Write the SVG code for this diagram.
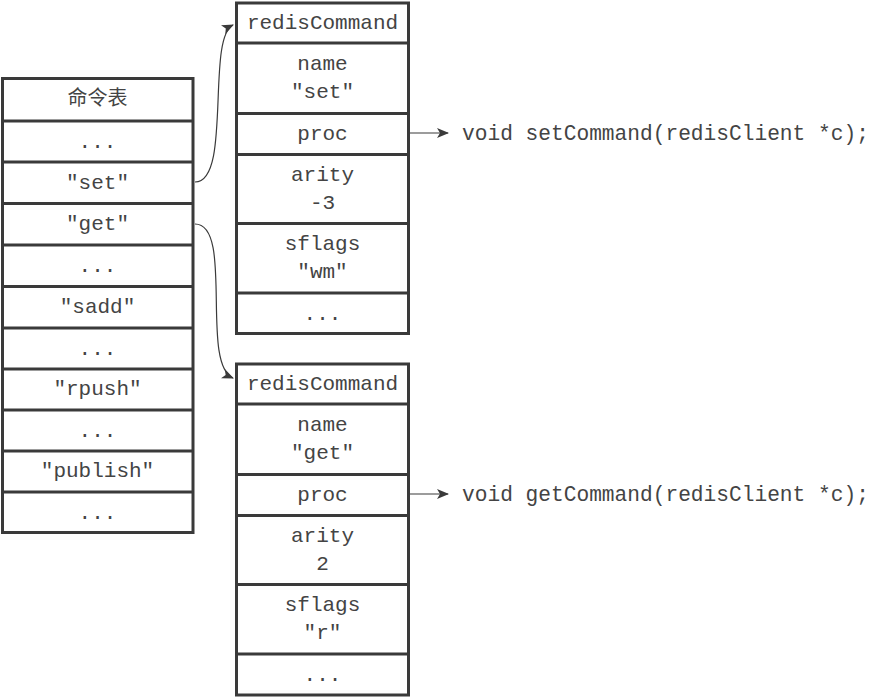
<svg xmlns="http://www.w3.org/2000/svg" width="869" height="698" viewBox="0 0 869 698">
  <style>
    .box { fill: #ffffff; stroke: #3a3a3a; stroke-width: 3; }
    .sep { stroke: #3a3a3a; stroke-width: 3; }
    .t { font-family: "Liberation Mono", "Courier New", monospace; font-size: 21px; fill: #444444; text-anchor: middle; }
    .fn { font-family: "Liberation Mono", "Courier New", monospace; font-size: 21.2px; fill: #444444; }
    .cjk { font-family: "Liberation Sans", "Noto Sans CJK SC", sans-serif; font-size: 20px; fill: #444444; text-anchor: middle; }
    .wire { fill: none; stroke: #3a3a3a; stroke-width: 1.2; }
  </style>
  <defs>
    <marker id="arrow" viewBox="0 0 12 10" refX="11" refY="5" markerWidth="12" markerHeight="10" markerUnits="userSpaceOnUse" orient="auto">
      <path d="M0,0 L12,5 L0,10 L3,5 Z" fill="#3a3a3a"/>
    </marker>
  </defs>
  <rect width="869" height="698" fill="#ffffff"/>

  <!-- command table -->
  <g id="command-table">
    <rect class="box" x="2.5" y="78.5" width="190.5" height="454"/>
    <line class="sep" x1="2.5" y1="121" x2="193" y2="121"/>
    <line class="sep" x1="2.5" y1="162" x2="193" y2="162"/>
    <line class="sep" x1="2.5" y1="203.5" x2="193" y2="203.5"/>
    <line class="sep" x1="2.5" y1="245" x2="193" y2="245"/>
    <line class="sep" x1="2.5" y1="286.5" x2="193" y2="286.5"/>
    <line class="sep" x1="2.5" y1="328" x2="193" y2="328"/>
    <line class="sep" x1="2.5" y1="369" x2="193" y2="369"/>
    <line class="sep" x1="2.5" y1="410" x2="193" y2="410"/>
    <line class="sep" x1="2.5" y1="451" x2="193" y2="451"/>
    <line class="sep" x1="2.5" y1="492" x2="193" y2="492"/>
    <text class="cjk" x="97.5" y="105">命令表</text>
    <text class="t" x="97.5" y="148">...</text>
    <text class="t" x="97.5" y="189">"set"</text>
    <text class="t" x="97.5" y="230">"get"</text>
    <text class="t" x="97.5" y="272">...</text>
    <text class="t" x="97.5" y="313">"sadd"</text>
    <text class="t" x="97.5" y="355">...</text>
    <text class="t" x="97.5" y="395">"rpush"</text>
    <text class="t" x="97.5" y="437">...</text>
    <text class="t" x="97.5" y="477">"publish"</text>
    <text class="t" x="97.5" y="519">...</text>
  </g>

  <!-- redisCommand for "set" -->
  <g id="set-command">
    <rect class="box" x="236.5" y="3" width="172" height="330.5"/>
    <line class="sep" x1="236.5" y1="43" x2="408.5" y2="43"/>
    <line class="sep" x1="236.5" y1="113.5" x2="408.5" y2="113.5"/>
    <line class="sep" x1="236.5" y1="154.5" x2="408.5" y2="154.5"/>
    <line class="sep" x1="236.5" y1="223.5" x2="408.5" y2="223.5"/>
    <line class="sep" x1="236.5" y1="293" x2="408.5" y2="293"/>
    <text class="t" x="322.5" y="29">redisCommand</text>
    <text class="t" x="322.5" y="70">name</text>
    <text class="t" x="322.5" y="98">"set"</text>
    <text class="t" x="322.5" y="140">proc</text>
    <text class="t" x="322.5" y="181">arity</text>
    <text class="t" x="322.5" y="209">-3</text>
    <text class="t" x="322.5" y="250">sflags</text>
    <text class="t" x="322.5" y="278">"wm"</text>
    <text class="t" x="322.5" y="320">...</text>
  </g>

  <!-- redisCommand for "get" -->
  <g id="get-command">
    <rect class="box" x="236.5" y="364" width="172" height="331"/>
    <line class="sep" x1="236.5" y1="404" x2="408.5" y2="404"/>
    <line class="sep" x1="236.5" y1="474.5" x2="408.5" y2="474.5"/>
    <line class="sep" x1="236.5" y1="515.5" x2="408.5" y2="515.5"/>
    <line class="sep" x1="236.5" y1="584.5" x2="408.5" y2="584.5"/>
    <line class="sep" x1="236.5" y1="654" x2="408.5" y2="654"/>
    <text class="t" x="322.5" y="390">redisCommand</text>
    <text class="t" x="322.5" y="431">name</text>
    <text class="t" x="322.5" y="459">"get"</text>
    <text class="t" x="322.5" y="501">proc</text>
    <text class="t" x="322.5" y="542">arity</text>
    <text class="t" x="322.5" y="570">2</text>
    <text class="t" x="322.5" y="611">sflags</text>
    <text class="t" x="322.5" y="639">"r"</text>
    <text class="t" x="322.5" y="681">...</text>
  </g>

  <!-- handler functions -->
  <g id="set-proc">
    <text class="fn" x="462" y="140">void setCommand(redisClient *c);</text>
  </g>
  <g id="get-proc">
    <text class="fn" x="462" y="501">void getCommand(redisClient *c);</text>
  </g>

  <!-- connectors -->
  <g id="connectors">
    <path class="wire" d="M195,182 C232,182 206,38 233,25" marker-end="url(#arrow)"/>
    <path class="wire" d="M195,224 C234,224 200,364 233,378" marker-end="url(#arrow)"/>
    <path class="wire" d="M410,133 L448,133" marker-end="url(#arrow)"/>
    <path class="wire" d="M410,494 L448,494" marker-end="url(#arrow)"/>
  </g>
</svg>
